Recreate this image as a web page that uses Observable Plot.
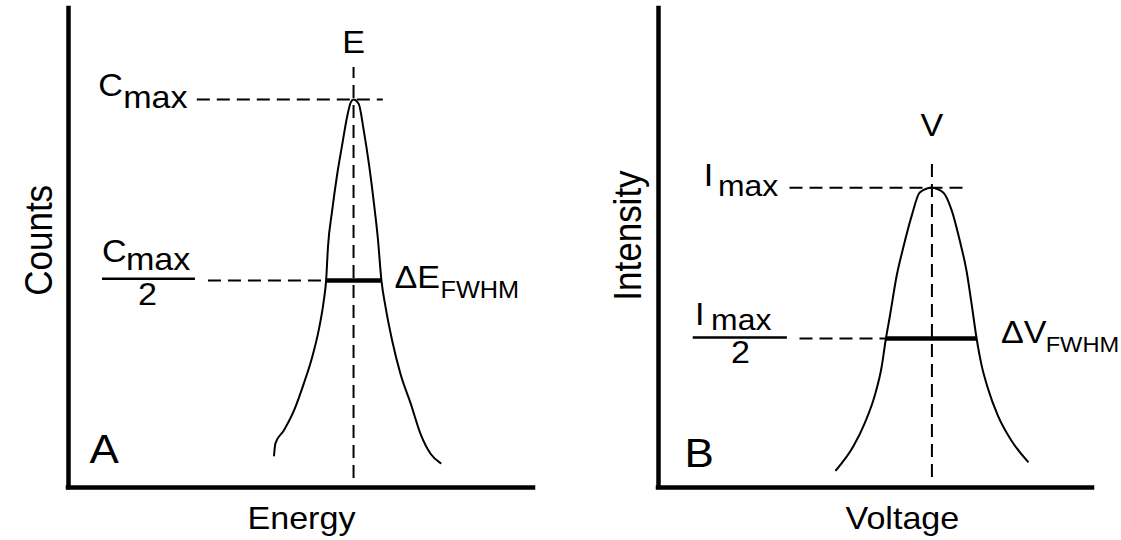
<!DOCTYPE html>
<html><head><meta charset="utf-8">
<script src="https://cdn.jsdelivr.net/npm/d3@7"></script>
<script src="https://cdn.jsdelivr.net/npm/@observablehq/plot@0.6"></script>
<style>
body{margin:0;background:#fff;}
#wrap{display:flex;width:1121px;height:540px;overflow:hidden;background:#fff;}
#wrap svg{overflow:visible;flex:none;}
</style></head><body><div id="wrap"></div>
<script>
// ---------- Panel A: energy spectrum (arbitrary units 0–100) ----------
const energy = [44.2,44.5,46.3,48.5,50.6,52.4,53.8,54.9,55.4,55.8,56.7,57.8,58.9,59.9,60.7,61.3,62.4,63.5,64.6,65.7,66.5,67.3,68.2,69.6,71.4,73.6,75.7,77.9,80.0];
const counts = [6.7,9.2,11.9,16.1,21.7,27.2,32.8,39.0,43.2,50.2,57.8,65.5,71.8,77.3,80.4,81.0,80.1,74.5,67.6,59.2,52.3,43.2,37.6,30.7,23.7,17.5,11.2,7.0,5.1];
const peakA = [61.3];          // E
const levelsA = [81.0, 43.2];  // Cmax, Cmax/2
const fwhmA = [55.4, 67.3];    // ΔE_FWHM ends

// ---------- Panel B: voltage peak ----------
const voltage = [40.9,44.9,47.6,49.9,51.4,52.4,53.3,54.9,56.4,58.3,60.2,62.9,65.6,67.5,69.4,71.0,72.1,73.3,74.4,75.9,78.2,81.3,85.1];
const intensity = [3.6,8.6,13.6,19.4,25.1,31.1,35.7,44.3,50.1,56.6,61.6,62.6,61.6,58.0,51.6,45.1,38.6,31.1,25.7,20.7,15.0,9.8,5.4];
const peakB = [63.0];          // V
const levelsB = [62.6, 31.1];  // Imax, Imax/2
const fwhmB = [52.4, 73.3];    // ΔV_FWHM ends

// ---------- label texts ----------
const textsA = ["E", "C", "max", "C", "max", "2", "\u0394E", "FWHM", "A", "Energy", "Counts"];
const textsB = ["V", "I", "max", "I", "max", "2", "\u0394V", "FWHM", "B", "Voltage", "Intensity"];

const FONT = "Liberation Sans, Arial, Helvetica, sans-serif";

function panel(o) {
  const pts = o.xs.map((x, i) => ({x, y: o.ys[i]}));
  const t = o.texts;
  const L = o.lab; // annotation anchors in data units
  const txt = (s, p, size, anchor, rotate = 0) =>
    Plot.text([{s, x: p[0], y: p[1]}], {x: "x", y: "y", text: "s", fontSize: size,
      textAnchor: anchor, lineAnchor: "middle", rotate, fill: "black", fontFamily: FONT});
  const dash = {stroke: "black", strokeWidth: 2, strokeDasharray: "13,7"};
  return Plot.plot({
    width: o.width, height: 540,
    marginLeft: o.ml, marginRight: o.mr, marginTop: 8, marginBottom: 53,
    x: {domain: [0, 100], axis: null},
    y: {domain: [0, 100], axis: null},
    style: {background: "white", fontFamily: FONT, overflow: "visible"},
    marks: [
      // dashed guides
      Plot.ruleX(o.peak, {y1: o.vLine[0], y2: o.vLine[1], ...dash}),
      Plot.ruleY([o.levels[0]], {x1: o.maxLine[0], x2: o.maxLine[1], ...dash}),
      Plot.ruleY([o.levels[1]], {x1: o.halfStart, x2: o.fwhm[0], ...dash}),
      // peak curve
      Plot.line(pts, {x: "x", y: "y", curve: "monotone-x", stroke: "black", strokeWidth: 2}),
      // FWHM bar
      Plot.ruleY([o.levels[1]], {x1: o.fwhm[0], x2: o.fwhm[1], stroke: "black", strokeWidth: 4.5}),
      // fraction bar
      Plot.ruleY([L.frac[0]], {x1: L.frac[1], x2: L.frac[2], stroke: "black", strokeWidth: 2.5}),
      // axes
      Plot.ruleX([0], {stroke: "black", strokeWidth: 4.5, strokeLinecap: "square"}),
      Plot.ruleY([0], {stroke: "black", strokeWidth: 4.5, strokeLinecap: "square"}),
      // labels
      txt(t[0], L.top, 31, "middle"),
      txt(t[1], L.c1, 31, "end"),
      txt(t[2], L.m1, o.sub, "end"),
      txt(t[3], L.c2, 31, "end"),
      txt(t[4], L.m2, o.sub, "end"),
      txt(t[5], L.two, 31, "middle"),
      txt(t[6], L.delta, 31, "start"),
      txt(t[7], L.sub, o.fw, "start"),
      txt(t[8], L.letter, 40, "start"),
      txt(t[9], L.xlab, 31, "middle"),
      txt(t[10], L.ylab, 35, "middle", -90)
    ]
  });
}

// the original lettering is slightly wide: stretch glyphs horizontally around their anchor
function widen(svg) {
  svg.querySelectorAll("text").forEach(el => {
    const tr = el.getAttribute("transform");
    if (!tr) return;
    el.setAttribute("transform", tr + (tr.includes("rotate") ? " scale(1,1.1)" : " scale(1.1,1)"));
  });
  return svg;
}

const a = panel({
  xs: energy, ys: counts, texts: textsA, peak: peakA, levels: levelsA, fwhm: fwhmA,
  width: 560, ml: 68, mr: 27, sub: 31, fw: 23,
  vLine: [1.9, 87.7], maxLine: [27.7, 67.7], halfStart: 30.1,
  lab: {top: [61.3, 92.8], c1: [11.7, 83.8], m1: [25.6, 81.2], c2: [12.5, 49.1], m2: [26.2, 47.4],
        frac: [43.6, 7.3, 27.3], two: [17.0, 40.1], delta: [70.1, 43.8], sub: [80.0, 41.0],
        letter: [4.5, 7.7], xlab: [50.1, -6.5], ylab: [-6.3, 51.6]}
});
const b = panel({
  xs: voltage, ys: intensity, texts: textsB, peak: peakB, levels: levelsB, fwhm: fwhmB,
  width: 561, ml: 98, mr: 29, sub: 29, fw: 21.5,
  vLine: [2.1, 68.3], maxLine: [30.3, 71.3], halfStart: 32.6,
  lab: {top: [63.0, 75.4], c1: [12.6, 65.1], m1: [27.6, 62.8], c2: [10.6, 35.9], m2: [26.0, 34.9],
        frac: [31.3, 8.0, 29.7], two: [18.9, 28.0], delta: [78.9, 32.2], sub: [89.2, 29.7],
        letter: [6.0, 6.9], xlab: [56.2, -6.5], ylab: [-6.9, 52.6]}
});
document.getElementById("wrap").append(widen(a), widen(b));
</script>
</body></html>
